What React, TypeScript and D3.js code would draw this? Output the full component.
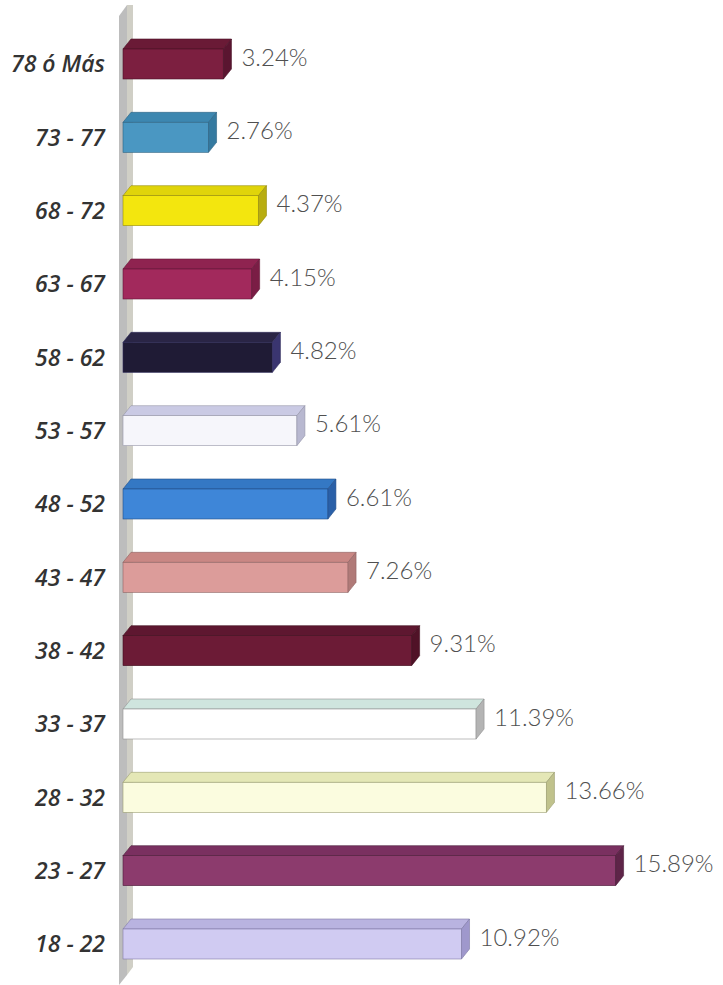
import React from "react";
import * as d3 from "d3";

const categories = ["78 ó Más", "73 - 77", "68 - 72", "63 - 67", "58 - 62", "53 - 57", "48 - 52", "43 - 47", "38 - 42", "33 - 37", "28 - 32", "23 - 27", "18 - 22"];
const values = [3.24, 2.76, 4.37, 4.15, 4.82, 5.61, 6.61, 7.26, 9.31, 11.39, 13.66, 15.89, 10.92];
const valueLabels = ["3.24%", "2.76%", "4.37%", "4.15%", "4.82%", "5.61%", "6.61%", "7.26%", "9.31%", "11.39%", "13.66%", "15.89%", "10.92%"];

const frontColors = ["#7c1f40", "#4a97c2", "#f3e60e", "#a2295c", "#1f1b35", "#f6f6fb", "#3e86d8", "#dc9c9a", "#6c1b36", "#ffffff", "#fbfcdf", "#8c3b6d", "#d0cbf2"];
const topColors = ["#6a1a36", "#3d87b0", "#e0d40a", "#8f2350", "#2a2545", "#cacae4", "#3478c4", "#c98784", "#5e1730", "#cfe5de", "#e4e7b6", "#7a3060", "#b9b3e0"];
const sideColors = ["#5a1530", "#357aa0", "#b8ad10", "#7a1d45", "#3a3570", "#b8b8d0", "#2a60a8", "#b07a78", "#501227", "#b4b4b4", "#c0c28c", "#5e2448", "#9f98cc"];

const W = 723;
const H = 985;

export default function App() {
  const x = d3.scaleLinear().domain([0, 16]).range([123, 619]);
  const y = d3.scalePoint<string>().domain(categories).range([64, 944]);
  const barH = 30;
  const dx = 8;
  const dy = 10;

  return (
    <svg width={W} height={H} style={{ position: "absolute", left: 0, top: 0, background: "#fff" }}>
      <polygon points={`119,985 119,16 127,5 127,975`} fill="#bdbdbd" />
      <polygon points={`127,975 127,5 133,5 133,967`} fill="#d0cfc6" />
      {categories.map((c, i) => {
        const cy = y(c)!;
        const x0 = x(0);
        const x1 = x(values[i]);
        const yt = cy - barH / 2;
        const yb = cy + barH / 2;
        const stroke = d3.color(sideColors[i])!.darker(0.6).formatHex();
        return (
          <g key={c}>
            <polygon
              points={`${x0},${yt} ${x0 + dx},${yt - dy} ${x1 + dx},${yt - dy} ${x1},${yt}`}
              fill={topColors[i]}
              stroke={stroke}
              strokeWidth={0.6}
            />
            <rect x={x0} y={yt} width={x1 - x0} height={barH} fill={frontColors[i]} stroke={stroke} strokeWidth={0.6} />
            <polygon
              points={`${x1},${yt} ${x1 + dx},${yt - dy} ${x1 + dx},${yb - dy} ${x1},${yb}`}
              fill={sideColors[i]}
              stroke={stroke}
              strokeWidth={0.6}
            />
            <text
              x={105}
              y={cy}
              dy="0.36em"
              textAnchor="end"
              fontFamily="'Open Sans', Lato, sans-serif"
              fontStyle="italic"
              fontWeight={600}
              fontSize={23}
              fill="#333"
            >
              {c}
            </text>
            <text
              x={x1 + dx + 10}
              y={cy - 7}
              dy="0.36em"
              fontFamily="Lato, 'Open Sans', sans-serif"
              fontWeight={300}
              fontSize={24}
              fill="#505050"
            >
              {valueLabels[i]}
            </text>
          </g>
        );
      })}
    </svg>
  );
}
